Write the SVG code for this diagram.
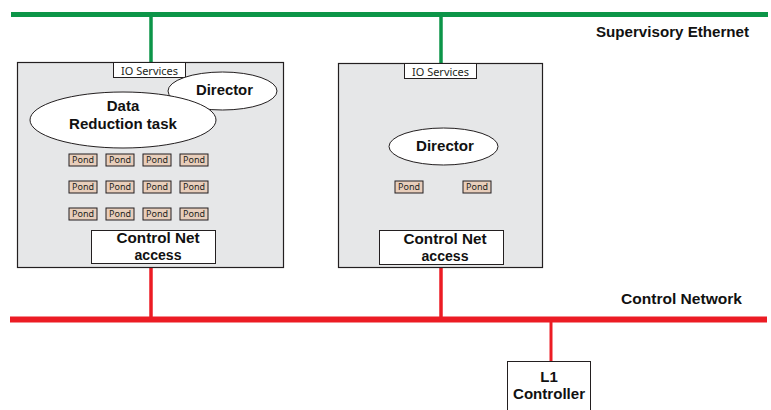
<svg xmlns="http://www.w3.org/2000/svg" width="771" height="410" viewBox="0 0 771 410">
  <style>
    .bus-eth { stroke: #0c9548; fill: none; }
    .bus-ctl { stroke: #ec1c24; fill: none; }
    .host { fill: #e6e7e8; stroke: #231f20; stroke-width: 1.2; }
    .plain { fill: #ffffff; stroke: #231f20; stroke-width: 1; }
    .oval { fill: #ffffff; stroke: #231f20; stroke-width: 1; }
    .pond { fill: #e8cebb; stroke: #231f20; stroke-width: 1; }
    .lbl { font-family: "Liberation Sans", Arial, sans-serif; font-weight: bold; fill: #111111; text-anchor: middle; }
    .io { font-family: "Noto Sans", "Open Sans", sans-serif; font-size: 11px; fill: #231f20; text-anchor: middle; }
    .pt { font-family: "Noto Sans", "Open Sans", sans-serif; font-size: 8.5px; fill: #231f20; text-anchor: middle; }
  </style>
  <defs>
    <g id="pondBox">
      <rect class="pond" x="0" y="0" width="28" height="12"/>
      <text class="pt" x="14" y="9.3" textLength="22" lengthAdjust="spacingAndGlyphs">Pond</text>
    </g>
  </defs>

  <!-- network buses and drop lines -->
  <g id="connectors">
    <line class="bus-eth" x1="11" y1="14.5" x2="768" y2="14.5" stroke-width="5"/>
    <line class="bus-eth" x1="151" y1="14" x2="151" y2="62" stroke-width="3.5"/>
    <line class="bus-eth" x1="441" y1="14" x2="441" y2="63" stroke-width="3.5"/>
    <line class="bus-ctl" x1="10" y1="319.5" x2="767" y2="319.5" stroke-width="6"/>
    <line class="bus-ctl" x1="151" y1="268" x2="151" y2="319" stroke-width="3.5"/>
    <line class="bus-ctl" x1="441" y1="267" x2="441" y2="319" stroke-width="3.5"/>
    <line class="bus-ctl" x1="551" y1="319" x2="551" y2="361" stroke-width="3"/>
  </g>

  <!-- bus labels -->
  <text class="lbl" x="672.5" y="37" font-size="14" textLength="153" lengthAdjust="spacingAndGlyphs">Supervisory Ethernet</text>
  <text class="lbl" x="681.5" y="304" font-size="14" textLength="121" lengthAdjust="spacingAndGlyphs">Control Network</text>

  <!-- host with data reduction task -->
  <g id="host-left">
    <rect class="host" x="17.5" y="62.5" width="266" height="205"/>
    <rect class="plain" x="113.5" y="62.5" width="72" height="15"/>
    <text class="io" x="149.5" y="75" textLength="57" lengthAdjust="spacingAndGlyphs">IO Services</text>
    <ellipse class="oval" cx="222.5" cy="91" rx="54.5" ry="19"/>
    <text class="lbl" x="224.5" y="94.5" font-size="15" textLength="57" lengthAdjust="spacingAndGlyphs">Director</text>
    <ellipse class="oval" cx="123" cy="120" rx="93" ry="28"/>
    <text class="lbl" x="123" y="110.5" font-size="15">Data</text>
    <text class="lbl" x="123" y="128.5" font-size="15" textLength="108" lengthAdjust="spacingAndGlyphs">Reduction task</text>
    <use href="#pondBox" x="69" y="154"/>
    <use href="#pondBox" x="106" y="154"/>
    <use href="#pondBox" x="143" y="154"/>
    <use href="#pondBox" x="180" y="154"/>
    <use href="#pondBox" x="69" y="181"/>
    <use href="#pondBox" x="106" y="181"/>
    <use href="#pondBox" x="143" y="181"/>
    <use href="#pondBox" x="180" y="181"/>
    <use href="#pondBox" x="69" y="208"/>
    <use href="#pondBox" x="106" y="208"/>
    <use href="#pondBox" x="143" y="208"/>
    <use href="#pondBox" x="180" y="208"/>
    <rect class="plain" x="91.5" y="230.5" width="124" height="33"/>
    <text class="lbl" x="158" y="243" font-size="14.5" textLength="83" lengthAdjust="spacingAndGlyphs">Control Net</text>
    <text class="lbl" x="158" y="259.5" font-size="14.5" textLength="47" lengthAdjust="spacingAndGlyphs">access</text>
  </g>

  <!-- host with director only -->
  <g id="host-right">
    <rect class="host" x="338.5" y="63.5" width="204" height="204"/>
    <rect class="plain" x="404.5" y="63.5" width="72" height="15"/>
    <text class="io" x="440.5" y="76" textLength="57" lengthAdjust="spacingAndGlyphs">IO Services</text>
    <ellipse class="oval" cx="443.5" cy="146.5" rx="54.5" ry="18.5"/>
    <text class="lbl" x="445" y="150.5" font-size="15" textLength="58" lengthAdjust="spacingAndGlyphs">Director</text>
    <use href="#pondBox" x="395" y="181"/>
    <use href="#pondBox" x="463" y="181"/>
    <rect class="plain" x="379.5" y="230.5" width="124" height="34"/>
    <text class="lbl" x="445" y="244" font-size="14.5" textLength="83" lengthAdjust="spacingAndGlyphs">Control Net</text>
    <text class="lbl" x="445" y="260.5" font-size="14.5" textLength="47" lengthAdjust="spacingAndGlyphs">access</text>
  </g>

  <!-- level 1 controller -->
  <g id="l1-controller">
    <rect class="plain" x="507.5" y="361.5" width="83" height="52"/>
    <text class="lbl" x="549" y="382" font-size="15">L1</text>
    <text class="lbl" x="549" y="399" font-size="15" textLength="72" lengthAdjust="spacingAndGlyphs">Controller</text>
  </g>
</svg>
